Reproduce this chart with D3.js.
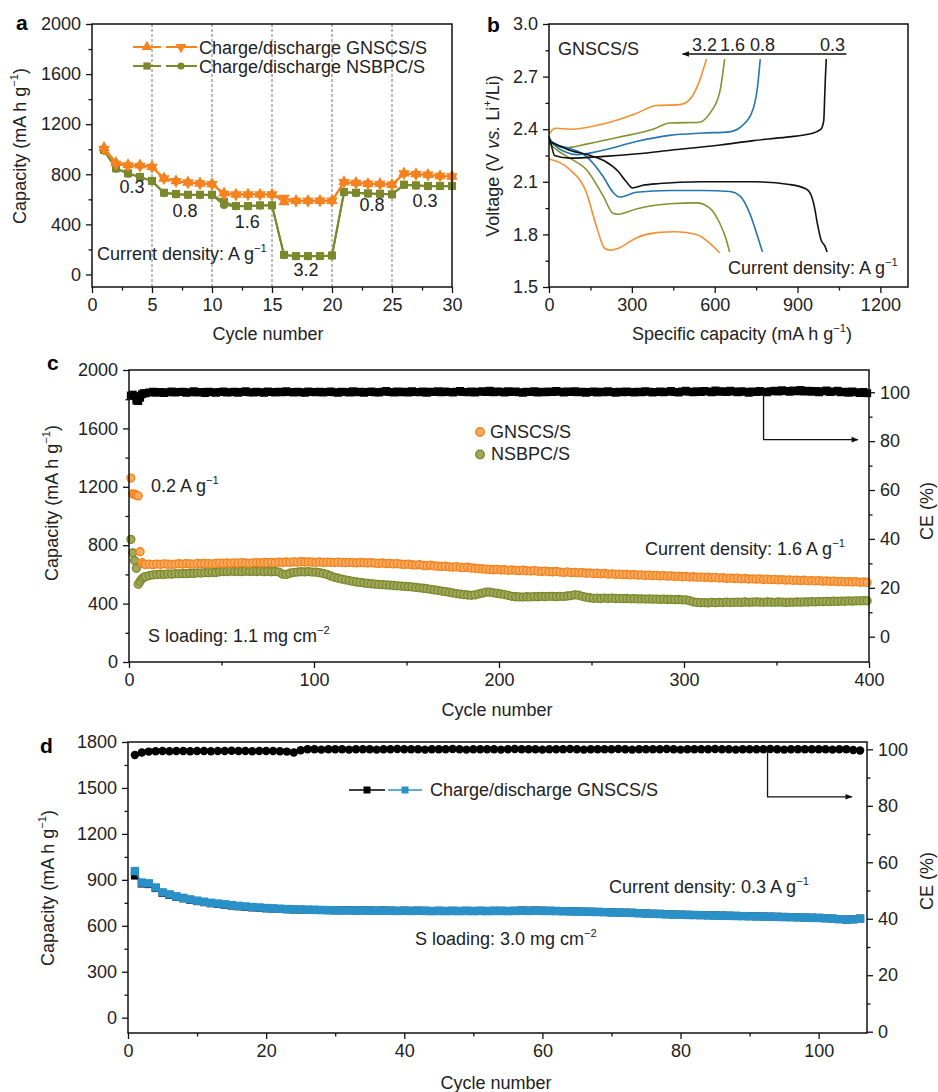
<!DOCTYPE html>
<html>
<head>
<meta charset="utf-8">
<title>GNSCS/S rate and cycling</title>
<script src="https://cdn.jsdelivr.net/npm/d3@7"></script>
<style>
  body { margin: 0; background: #fff; }
  svg { display: block; font-family: 'Liberation Sans', Arial, sans-serif; }
</style>
</head>
<body>
<svg id="fig" width="938" height="1092"></svg>
<script>
// ---- panel a : rate capability ----
var aCycles = [1,2,3,4,5,6,7,8,9,10,11,12,13,14,15,16,17,18,19,20,21,22,23,24,25,26,27,28,29,30];
var aGnCharge = [1013,893,875,872,861,768,747,736,728,723,650,640,640,640,640,580,589,589,589,589,739,733,725,725,717,808,803,797,787,784];
var aGnDischarge = [1000,882,870,866,858,765,744,733,726,720,642,637,638,638,637,610,586,586,588,588,735,730,723,722,715,805,800,795,785,782];
var aNsCharge = [995,848,808,779,747,653,643,637,637,637,580,547,547,552,552,157,147,147,147,152,659,653,648,645,640,717,712,707,707,707];
var aNsDischarge = [990,845,805,777,745,650,640,635,635,635,555,545,545,550,550,155,146,146,146,150,655,650,645,643,638,715,710,705,705,705];
var aRateBreaks = [5, 10, 15, 20, 25];
var aRateLabels = ['0.3', '0.8', '1.6', '3.2', '0.8', '0.3'];

// ---- panel b : voltage profiles [capacity, voltage] ----
var bDis03 = [[0,2.33],[30,2.31],[75,2.28],[150,2.25],[200,2.22],[250,2.16],[280,2.10],[302,2.065],[340,2.08],[400,2.09],[550,2.10],[740,2.10],[870,2.085],[930,2.06],[950,2.02],[962,1.95],[972,1.86],[985,1.77],[1000,1.73],[1007,1.70]];
var bChg03 = [[0,2.36],[10,2.30],[20,2.25],[75,2.235],[200,2.245],[320,2.26],[440,2.28],[620,2.31],[740,2.335],[860,2.355],[950,2.375],[985,2.40],[995,2.45],[998,2.57],[1001,2.70],[1004,2.80]];
var bDis08 = [[0,2.34],[30,2.31],[75,2.29],[135,2.245],[196,2.13],[232,2.04],[256,2.013],[316,2.04],[437,2.05],[558,2.05],[654,2.045],[691,2.02],[727,1.92],[751,1.81],[773,1.70]];
var bChg08 = [[0,2.35],[20,2.31],[60,2.27],[100,2.255],[196,2.28],[316,2.33],[437,2.365],[558,2.378],[654,2.385],[700,2.42],[740,2.52],[755,2.64],[765,2.80]];
var bDis16 = [[0,2.32],[30,2.28],[75,2.235],[135,2.17],[196,2.02],[232,1.92],[250,1.915],[316,1.945],[437,1.975],[534,1.98],[582,1.95],[618,1.865],[642,1.77],[654,1.70]];
var bChg16 = [[0,2.33],[20,2.31],[63,2.295],[135,2.315],[256,2.355],[377,2.40],[437,2.435],[546,2.44],[582,2.49],[618,2.61],[636,2.80]];
var bDis32 = [[0,2.23],[75,2.17],[135,2.04],[171,1.85],[202,1.72],[226,1.71],[250,1.72],[316,1.78],[389,1.81],[461,1.815],[534,1.80],[582,1.75],[618,1.695]];
var bChg32 = [[0,2.37],[15,2.40],[27,2.405],[75,2.40],[196,2.43],[316,2.49],[389,2.535],[473,2.54],[510,2.57],[546,2.68],[570,2.80]];

// ---- panel c : long cycling at 1.6 A/g ----
var cEarlyCycles = [1,2,3,4,5,6,7,8];
var cGnEarly = [1260,1152,1148,1142,1138,755,680,672];
var cNsEarly = [840,748,695,642,533,552,570,580];
var cCeEarly = [98.6,99.0,98.4,96.6,96.4,97.8,99.2,99.6];
// cycles 9, 11, 13 ... 399
var cGn = [668,670,667,671,669,672,670,668,671,673, 671,674,672,670,675,673,676,674,672,675,
  677,675,678,676,679,677,680,678,676,679, 681,679,682,680,683,681,684,682,685,683,
  686,684,687,685,686,684,683,685,682,684, 683,681,684,682,680,683,681,679,682,680,
  678,680,677,675,678,674,676,672,674,670, 668,670,666,664,667,662,660,663,658,656,
  654,656,652,650,653,648,646,649,644,642, 640,638,636,634,632,634,630,632,628,630,
  628,626,629,625,623,626,622,620,623,619, 618,620,616,614,617,612,614,610,612,608,
  610,606,608,604,606,602,604,600,602,598, 600,597,599,595,597,593,595,591,593,590,
  592,588,590,586,588,584,586,582,584,581, 582,579,581,577,579,575,577,573,575,572,
  574,570,572,568,570,567,569,565,567,564, 566,562,564,561,563,559,561,558,560,556,
  558,555,557,553,555,552,554,550,552,549, 551,548,550,546,548,545];
var cNs = [585,592,597,599,601,600,603,602,605,604, 606,605,608,607,610,609,612,611,614,613,
  618,620,619,622,620,621,619,622,620,621, 620,622,619,621,618,620,616,602,600,608,
  614,616,618,617,619,616,615,612,606,600, 590,580,574,568,562,558,552,548,545,541,
  538,536,533,531,530,528,526,524,522,520, 518,516,514,511,508,505,502,498,494,490,
  486,482,478,473,469,465,462,459,457,460, 466,472,478,478,474,470,466,462,456,450,
  447,446,445,447,446,448,447,449,448,450, 449,448,450,449,452,455,460,458,450,444,
  440,436,437,435,438,436,437,435,436,434, 435,433,434,432,433,431,432,430,431,429,
  430,428,429,427,428,426,425,420,412,408, 406,407,405,408,406,409,407,410,408,409,
  410,408,411,409,410,412,410,409,411,410, 409,411,410,408,410,409,411,410,412,411,
  413,412,414,413,415,414,416,415,417,416, 418,417,419,418,420,419];
var cCe = [99.6,99.9,100.2,99.8,100.1,99.7,100.0,100.3,99.9,100.1, 100.2,99.8,100.0,100.4,99.9,100.1,99.7,100.2,100.0,99.8,
  100.1,100.3,99.9,100.0,100.2,99.8,100.1,100.4,100.0,99.9, 100.2,100.0,99.8,100.3,100.1,99.9,100.2,100.0,100.4,100.1,
  99.9,100.2,100.0,99.8,100.3,100.1,100.0,100.2,99.9,100.1, 100.3,100.0,99.8,100.2,100.1,99.9,100.4,100.0,100.2,99.8,
  100.1,100.3,100.0,99.9,100.2,100.5,100.1,99.9,100.3,100.0, 100.2,99.9,100.4,100.1,100.0,100.3,99.8,100.2,100.1,100.4,
  100.0,100.3,100.1,99.9,100.2,100.5,100.1,100.0,100.3,99.9, 100.2,100.4,100.1,100.6,100.0,100.3,100.2,99.9,100.4,100.1,
  100.3,100.0,99.8,100.2,100.1,100.4,99.9,100.2,100.0,100.3, 100.1,100.5,100.2,99.9,100.3,100.1,100.4,100.0,100.2,99.8,
  100.1,100.3,99.9,100.2,100.0,100.4,100.1,99.8,100.2,100.0, 100.3,100.1,99.9,100.2,100.0,100.4,100.2,99.9,100.1,100.3,
  100.0,100.2,100.5,100.1,99.9,100.3,100.6,100.2,100.0,100.4, 100.1,100.5,100.3,100.0,100.7,100.2,100.4,100.1,100.6,100.3,
  100.0,100.4,100.2,99.8,100.3,100.1,100.5,100.2,100.0,100.4, 100.6,100.3,100.8,100.5,100.2,100.7,100.4,100.9,100.3,100.6,
  100.2,100.5,100.0,100.4,100.7,100.1,100.3,100.6,100.0,100.2, 99.8,100.3,100.0,99.7,100.1,99.6];

// ---- panel d : high loading at 0.3 A/g, cycles 1..106 ----
var dDischarge = [957,882,877,850,818,805,792,782,772,764, 757,750,745,740,735,730,726,722,719,716,
  713,711,709,707,706,705,704,703,702,701, 700,700,699,700,699,698,699,698,697,698,
  697,698,697,696,697,696,697,696,697,696, 697,696,697,697,696,697,698,697,698,697,
  697,696,695,694,693,692,691,690,689,687, 686,685,684,682,680,678,677,675,673,672,
  671,670,669,668,667,666,665,664,663,662, 661,660,659,658,657,656,655,653,652,651,
  649,646,643,640,642,646];
var dCharge = [928,876,872,846,814,801,789,779,769,761, 754,747,742,737,732,727,723,720,717,714,
  712,710,708,706,705,704,704,703,702,701, 701,702,700,701,700,699,700,699,698,699,
  698,699,698,697,698,697,698,697,698,697, 698,697,698,698,697,698,700,699,700,699,
  698,697,696,695,694,693,692,691,690,688, 687,686,685,683,681,679,678,676,674,673,
  672,671,670,669,668,667,666,665,664,663, 662,661,660,659,658,657,656,654,653,652,
  650,647,644,641,643,647];
var dCe = [98.0,98.9,99.2,99.3,99.4,99.3,99.4,99.4,99.3,99.4, 99.4,99.3,99.4,99.4,99.5,99.4,99.4,99.3,99.4,99.4,
  99.4,99.3,99.2,98.9,99.7,100.0,100.0,99.9,100.0,100.0, 100.0,99.9,100.0,100.0,100.0,99.9,100.0,100.0,100.1,100.0,
  100.0,100.0,99.9,100.0,100.0,100.0,100.1,100.0,99.9,100.0, 100.0,100.0,100.0,99.9,100.0,100.1,100.0,100.0,100.0,99.9,
  100.0,100.0,100.0,100.1,100.0,99.9,100.0,100.0,100.0,100.0, 100.1,100.0,99.9,100.0,100.0,100.0,100.0,100.1,100.0,99.9,
  100.0,100.0,100.0,100.0,100.1,100.0,100.0,99.9,100.0,100.0, 100.0,100.0,100.1,100.0,99.9,100.0,100.0,100.0,100.0,100.0,
  100.0,99.9,100.0,100.0,99.8,99.6];

var ORANGE = '#f5821f', OLIVE = '#7b882c', BLUE_B = '#2576b0', OLIVE_B = '#84932f',
    ORANGE_B = '#f39030', BLUE_D = '#2a90c8';

var svg = d3.select('#fig');
svg.append('rect').attr('width', 938).attr('height', 1092).attr('fill', '#fff');

var defs = svg.append('defs');
defs.append('marker').attr('id', 'arrow').attr('viewBox', '0 0 10 10')
  .attr('refX', 9).attr('refY', 5).attr('markerWidth', 9).attr('markerHeight', 7)
  .attr('markerUnits', 'userSpaceOnUse').attr('orient', 'auto')
  .append('path').attr('d', 'M0,1L10,5L0,9z').attr('fill', '#111');

function drawAxis(parent, orient, scale, major, minor, fmt, transform) {
  var make = {left: d3.axisLeft, right: d3.axisRight, bottom: d3.axisBottom}[orient];
  var g = parent.append('g').attr('transform', transform);
  g.append('g').call(make(scale).tickValues(minor).tickSize(3.5).tickFormat(''));
  g.append('g').call(make(scale).tickValues(major).tickSize(6).tickPadding(5).tickFormat(fmt || d3.format('d')));
  g.selectAll('.domain').remove();
  g.selectAll('line').attr('stroke', '#111').attr('stroke-width', 1.3);
  g.selectAll('text').attr('font-size', 18).attr('fill', '#222')
    .attr('font-family', "'Liberation Sans', Arial, sans-serif");
}

function frame(g, x, y) {
  var r = x.range(), s = y.range();
  g.append('rect').attr('x', r[0]).attr('y', s[1]).attr('width', r[1] - r[0]).attr('height', s[0] - s[1])
    .attr('fill', 'none').attr('stroke', '#111').attr('stroke-width', 1.5);
}

// text with superscripts / italics: parts are strings or {t, sup, it}
function rich(g, x, y, parts, o) {
  o = o || {};
  var size = o.size || 18;
  var t = g.append('text').attr('x', x).attr('y', y).attr('font-size', size)
    .attr('fill', o.fill || '#222').attr('text-anchor', o.anchor || 'start');
  if (o.bold) t.attr('font-weight', 'bold');
  if (o.rot) t.attr('transform', 'rotate(-90 ' + x + ' ' + y + ')');
  var up = false;
  parts.forEach(function (p) {
    var s = typeof p === 'string' ? {t: p} : p;
    var ts = t.append('tspan').text(s.t);
    if (s.sup) {
      ts.attr('font-size', size * 0.62);
      if (!up) { ts.attr('dy', -size * 0.42); up = true; }
    } else if (up) {
      ts.attr('dy', size * 0.42); up = false;
    }
    if (s.it) ts.attr('font-style', 'italic');
  });
  return t;
}

function series(g, x, y, xs, vals, color, sym, size, rot, lw) {
  var line = d3.line().x(function (d, i) { return x(xs[i]); }).y(function (d) { return y(d); });
  g.append('path').datum(vals).attr('d', line).attr('fill', 'none')
    .attr('stroke', color).attr('stroke-width', lw);
  g.append('g').selectAll('path').data(vals).enter().append('path')
    .attr('d', d3.symbol().type(sym).size(size))
    .attr('transform', function (d, i) {
      return 'translate(' + x(xs[i]) + ',' + y(d) + ')' + (rot ? ' rotate(180)' : '');
    })
    .attr('fill', color);
}

var capLabel = ['Capacity (mA h g', {t: '\u22121', sup: true}, ')'];

// ================= panel a =================
var xa = d3.scaleLinear().domain([0, 30]).range([92, 452]);
var ya = d3.scaleLinear().domain([-100, 2000]).range([287, 24]);
var ga = svg.append('g');

ga.selectAll('line.sep').data(aRateBreaks).enter().append('line')
  .attr('x1', xa).attr('x2', xa).attr('y1', 24).attr('y2', 287)
  .attr('stroke', '#777').attr('stroke-width', 1).attr('stroke-dasharray', '3,2');

series(ga, xa, ya, aCycles, aNsCharge, OLIVE, d3.symbolSquare, 64, false, 2);
series(ga, xa, ya, aCycles, aNsDischarge, OLIVE, d3.symbolCircle, 52, false, 2);
series(ga, xa, ya, aCycles, aGnCharge, ORANGE, d3.symbolTriangle, 58, false, 2);
series(ga, xa, ya, aCycles, aGnDischarge, ORANGE, d3.symbolTriangle, 58, true, 2);

frame(ga, xa, ya);
drawAxis(ga, 'left', ya, [0, 400, 800, 1200, 1600, 2000], [200, 600, 1000, 1400, 1800], null, 'translate(92,0)');
drawAxis(ga, 'bottom', xa, [0, 5, 10, 15, 20, 25, 30], [2.5, 7.5, 12.5, 17.5, 22.5, 27.5], null, 'translate(0,287)');

// legend a
[[47, ORANGE, d3.symbolTriangle, d3.symbolTriangle, 50, 'Charge/discharge GNSCS/S'],
 [66, OLIVE, d3.symbolSquare, d3.symbolCircle, 52, 'Charge/discharge NSBPC/S']].forEach(function (L, k) {
  ga.append('line').attr('x1', 133).attr('x2', 161).attr('y1', L[0]).attr('y2', L[0]).attr('stroke', L[1]).attr('stroke-width', 2);
  ga.append('line').attr('x1', 166).attr('x2', 197).attr('y1', L[0]).attr('y2', L[0]).attr('stroke', L[1]).attr('stroke-width', 2);
  ga.append('path').attr('d', d3.symbol().type(L[2]).size(L[4])()).attr('fill', L[1])
    .attr('transform', 'translate(147,' + L[0] + ')');
  ga.append('path').attr('d', d3.symbol().type(L[3]).size(k === 0 ? 50 : 40)()).attr('fill', L[1])
    .attr('transform', 'translate(181,' + L[0] + ')' + (k === 0 ? ' rotate(180)' : ''));
  rich(ga, 199, L[0] + 7, [L[5]]);
});

var aLabelPos = [[2.3, 0, 193], [6.7, 0, 217], [11.9, 0, 228], [16.8, 0, 276], [22.3, 0, 211], [26.7, 0, 207]];
aLabelPos.forEach(function (p, i) {
  rich(ga, xa(p[0]), p[2], [aRateLabels[i]]);
});
rich(ga, 97, 260, ['Current density: A g', {t: '\u22121', sup: true}]);
rich(ga, 16, 30, ['a'], {size: 21, bold: true, fill: '#000'});
rich(ga, 26, 146, capLabel, {rot: true, anchor: 'middle'});
rich(ga, 268, 340, ['Cycle number'], {anchor: 'middle'});

// ================= panel b =================
var xb = d3.scaleLinear().domain([0, 1300]).range([549, 908]);
var yb = d3.scaleLinear().domain([1.5, 3.0]).range([287, 24]);
var gb = svg.append('g');
var bLine = d3.line().x(function (d) { return xb(d[0]); }).y(function (d) { return yb(d[1]); }).curve(d3.curveMonotoneX);
[[bChg32, ORANGE_B], [bDis32, ORANGE_B], [bChg16, OLIVE_B], [bDis16, OLIVE_B],
 [bChg08, BLUE_B], [bDis08, BLUE_B], [bChg03, '#111'], [bDis03, '#111']].forEach(function (c) {
  gb.append('path').datum(c[0]).attr('d', bLine).attr('fill', 'none')
    .attr('stroke', c[1]).attr('stroke-width', 1.6);
});
frame(gb, xb, yb);
drawAxis(gb, 'left', yb, [1.5, 1.8, 2.1, 2.4, 2.7, 3.0], [1.65, 1.95, 2.25, 2.55, 2.85], d3.format('.1f'), 'translate(549,0)');
drawAxis(gb, 'bottom', xb, [0, 300, 600, 900, 1200], [150, 450, 750, 1050], null, 'translate(0,287)');

rich(gb, 558, 55, ['GNSCS/S']);
[['3.2', 692], ['1.6', 720], ['0.8', 750], ['0.3', 820]].forEach(function (r) { rich(gb, r[1], 51, [r[0]]); });
gb.append('line').attr('x1', xb(1077)).attr('x2', xb(484)).attr('y1', yb(2.829)).attr('y2', yb(2.829))
  .attr('stroke', '#111').attr('stroke-width', 1.5).attr('marker-end', 'url(#arrow)');
rich(gb, 728, 274, ['Current density: A g', {t: '\u22121', sup: true}]);
rich(gb, 487, 32, ['b'], {size: 21, bold: true, fill: '#000'});
rich(gb, 499, 156, ['Voltage (V ', {t: 'vs.', it: true}, ' Li', {t: '+', sup: true}, '/Li)'], {rot: true, anchor: 'middle'});
rich(gb, 742, 340, ['Specific capacity (mA h g', {t: '\u22121', sup: true}, ')'], {anchor: 'middle'});

// ================= panel c =================
var xc = d3.scaleLinear().domain([0, 400]).range([129, 869]);
var yc = d3.scaleLinear().domain([0, 2000]).range([662, 370]);
var yc2 = d3.scaleLinear().domain([-10.35, 109.1]).range([662, 370]);
var gc = svg.append('g');

var cCycles = cEarlyCycles.concat(cGn.map(function (d, i) { return 9 + 2 * i; }));
var cGnAll = cGnEarly.concat(cGn), cNsAll = cNsEarly.concat(cNs), cCeAll = cCeEarly.concat(cCe);

gc.append('g').selectAll('path').data(cCeAll).enter().append('path')
  .attr('d', d3.symbol().type(d3.symbolSquare).size(64))
  .attr('transform', function (d, i) { return 'translate(' + xc(cCycles[i]) + ',' + yc2(d) + ')'; })
  .attr('fill', '#000');
function dots(g, vals, fill, stroke) {
  g.append('g').selectAll('circle').data(vals).enter().append('circle')
    .attr('cx', function (d, i) { return xc(cCycles[i]); }).attr('cy', function (d) { return yc(d); })
    .attr('r', 4).attr('fill', fill).attr('stroke', stroke).attr('stroke-width', 1.3);
}
dots(gc, cNsAll, '#a0a85a', OLIVE);
dots(gc, cGnAll, '#f8aa60', '#f2821c');

frame(gc, xc, yc);
drawAxis(gc, 'left', yc, [0, 400, 800, 1200, 1600, 2000], [200, 600, 1000, 1400, 1800], null, 'translate(129,0)');
drawAxis(gc, 'right', yc2, [0, 20, 40, 60, 80, 100], [10, 30, 50, 70, 90], null, 'translate(869,0)');
drawAxis(gc, 'bottom', xc, [0, 100, 200, 300, 400], [50, 150, 250, 350], null, 'translate(0,662)');

gc.append('path').attr('d', d3.line()([[xc(343), yc2(100)], [xc(343), yc2(80.6)], [xc(394), yc2(80.6)]]))
  .attr('fill', 'none').attr('stroke', '#111').attr('stroke-width', 1.3).attr('marker-end', 'url(#arrow)');
gc.append('circle').attr('cx', 480).attr('cy', 432).attr('r', 4.2).attr('fill', '#f8aa60').attr('stroke', '#f2821c').attr('stroke-width', 1.5);
gc.append('circle').attr('cx', 480).attr('cy', 454.5).attr('r', 4.2).attr('fill', '#a0a85a').attr('stroke', OLIVE).attr('stroke-width', 1.5);
rich(gc, 490, 438, ['GNSCS/S']);
rich(gc, 491, 460, ['NSBPC/S']);
rich(gc, 151, 492, ['0.2 A g', {t: '\u22121', sup: true}]);
rich(gc, 148, 642, ['S loading: 1.1 mg cm', {t: '\u22122', sup: true}]);
rich(gc, 645, 555, ['Current density: 1.6 A g', {t: '\u22121', sup: true}]);
rich(gc, 47, 370, ['c'], {size: 21, bold: true, fill: '#000'});
rich(gc, 58, 503, capLabel, {rot: true, anchor: 'middle'});
rich(gc, 933, 511, ['CE (%)'], {rot: true, anchor: 'middle'});
rich(gc, 497, 716, ['Cycle number'], {anchor: 'middle'});

// ================= panel d =================
var xd = d3.scaleLinear().domain([0, 107]).range([128, 867]);
var yd = d3.scaleLinear().domain([-100, 1800]).range([1033, 742]);
var yd2 = d3.scaleLinear().domain([-0.46, 102.6]).range([1033, 742]);
var gd = svg.append('g');
var dCycles = dCe.map(function (d, i) { return i + 1; });

series(gd, xd, yd2, dCycles, dCe, '#000', d3.symbolCircle, 56, false, 1.2);
series(gd, xd, yd, dCycles, dCharge, '#000', d3.symbolSquare, 64, false, 1.5);
series(gd, xd, yd, dCycles, dDischarge, BLUE_D, d3.symbolSquare, 72, false, 1.5);

frame(gd, xd, yd);
drawAxis(gd, 'left', yd, [0, 300, 600, 900, 1200, 1500, 1800], [150, 450, 750, 1050, 1350, 1650], null, 'translate(128,0)');
drawAxis(gd, 'right', yd2, [0, 20, 40, 60, 80, 100], [10, 30, 50, 70, 90], null, 'translate(867,0)');
drawAxis(gd, 'bottom', xd, [0, 20, 40, 60, 80, 100], [10, 30, 50, 70, 90], null, 'translate(0,1033)');

gd.append('path').attr('d', d3.line()([[xd(92.6), yd2(99.6)], [xd(92.6), yd2(83.2)], [xd(104.8), yd2(83.2)]]))
  .attr('fill', 'none').attr('stroke', '#111').attr('stroke-width', 1.3).attr('marker-end', 'url(#arrow)');
gd.append('line').attr('x1', 349).attr('x2', 385).attr('y1', 790).attr('y2', 790).attr('stroke', '#000').attr('stroke-width', 1.5);
gd.append('line').attr('x1', 388).attr('x2', 422).attr('y1', 790).attr('y2', 790).attr('stroke', BLUE_D).attr('stroke-width', 1.5);
gd.append('path').attr('d', d3.symbol().type(d3.symbolSquare).size(49)()).attr('transform', 'translate(367,790)').attr('fill', '#000');
gd.append('path').attr('d', d3.symbol().type(d3.symbolSquare).size(49)()).attr('transform', 'translate(405,790)').attr('fill', BLUE_D);
rich(gd, 430, 796, ['Charge/discharge GNSCS/S']);
rich(gd, 609, 893, ['Current density: 0.3 A g', {t: '\u22121', sup: true}]);
rich(gd, 415, 945, ['S loading: 3.0 mg cm', {t: '\u22122', sup: true}]);
rich(gd, 40, 753, ['d'], {size: 21, bold: true, fill: '#000'});
rich(gd, 54, 888, capLabel, {rot: true, anchor: 'middle'});
rich(gd, 933, 881, ['CE (%)'], {rot: true, anchor: 'middle'});
rich(gd, 496, 1089, ['Cycle number'], {anchor: 'middle'});
</script>
</body>
</html>
